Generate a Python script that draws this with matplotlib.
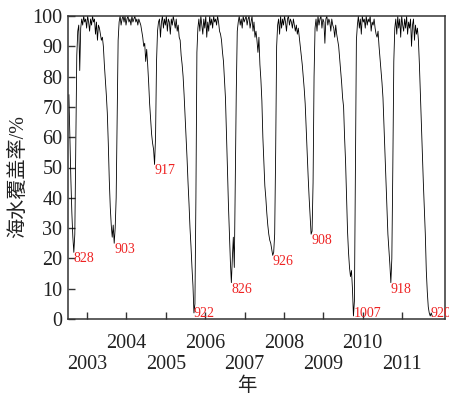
import numpy as np
import matplotlib.pyplot as plt

# sea-ice coverage (%), one reading every 1/40 year, each season from mid-July
season_start = [2002.54, 2003.54, 2004.54, 2005.54, 2006.54,
                2007.54, 2008.54, 2009.54, 2010.54, 2011.54]
step = 1 / 40

cov_2002 = [74, 60, 46, 35, 27, 22, 28, 58, 87, 95, 97, 82, 96, 99, 97, 100, 98, 99, 96, 100,
            98, 95, 99, 97, 100, 98, 99, 94, 98, 92, 97, 96, 94, 92, 93, 90, 84, 79, 74, 68]
cov_2003 = [58, 46, 37, 31, 27, 31, 25, 30, 40, 65, 92, 98, 100, 97, 99, 100, 98, 100, 97, 99,
            100, 98, 99, 97, 100, 98, 99, 100, 98, 99, 97, 99, 98, 97, 95, 93, 90, 91, 85, 89]
cov_2004 = [84, 78, 71, 66, 61, 58, 56, 51, 60, 85, 95, 98, 99, 93, 98, 100, 96, 99, 97, 100,
            95, 99, 98, 94, 99, 97, 100, 98, 96, 99, 95, 97, 93, 92, 87, 84, 80, 74, 67, 60]
cov_2005 = [53, 45, 38, 30, 24, 17, 11, 2, 5, 40, 88, 96, 99, 95, 100, 97, 94, 99, 96, 100,
            93, 98, 95, 100, 97, 99, 96, 100, 98, 99, 97, 100, 98, 95, 94, 92, 88, 85, 79, 73]
cov_2006 = [62, 50, 38, 28, 19, 12, 20, 27, 17, 45, 75, 95, 98, 100, 97, 99, 96, 100, 98, 99,
            100, 97, 99, 100, 96, 98, 100, 95, 98, 93, 95, 92, 88, 93, 84, 79, 72, 60, 52, 44]
cov_2007 = [40, 35, 31, 28, 26, 25, 23, 21, 22, 28, 55, 90, 97, 99, 94, 100, 96, 99, 97, 100,
            98, 95, 99, 100, 97, 99, 98, 96, 99, 97, 95, 97, 94, 96, 93, 90, 87, 84, 80, 76]
cov_2008 = [71, 63, 55, 47, 40, 34, 28, 29, 45, 80, 96, 99, 95, 100, 97, 99, 100, 96, 99, 98,
            91, 99, 100, 97, 99, 98, 95, 99, 97, 96, 93, 97, 94, 92, 90, 86, 82, 78, 73, 70]
cov_2009 = [60, 52, 41, 29, 22, 17, 14, 16, 10, 1, 6, 50, 92, 97, 100, 96, 99, 94, 100, 98,
            99, 96, 100, 97, 99, 98, 100, 95, 98, 97, 99, 96, 94, 93, 95, 90, 86, 82, 78, 73]
cov_2010 = [64, 55, 45, 36, 28, 23, 18, 12, 20, 50, 85, 96, 99, 94, 100, 96, 99, 93, 100, 97,
            95, 99, 96, 100, 94, 98, 96, 99, 90, 97, 99, 92, 97, 94, 96, 92, 84, 74, 64, 55]
cov_2011 = [45, 36, 28, 16, 9, 4, 2, 1, 2, 1]

# yearly minimum dates (mmdd) marked on the curve
min_years = [2002.655, 2003.67, 2004.71, 2005.72, 2006.65,
             2007.73, 2008.69, 2009.77, 2010.71, 2011.72]
min_labels = ['828', '903', '917', '922', '826', '926', '908', '1007', '918', '920']

year_ticks = [2003, 2004, 2005, 2006, 2007, 2008, 2009, 2010, 2011]


def main():
    seasons = [cov_2002, cov_2003, cov_2004, cov_2005, cov_2006,
               cov_2007, cov_2008, cov_2009, cov_2010, cov_2011]
    x = np.concatenate([s0 + np.arange(len(v)) * step for s0, v in zip(season_start, seasons)])
    y = np.concatenate([np.array(v, dtype=float) for v in seasons])

    serif = ['Liberation Serif', 'Noto Sans CJK SC']
    plt.rcParams['font.family'] = serif

    fig = plt.figure(figsize=(4.49, 3.95), dpi=100)
    ax = fig.add_axes([68 / 449, 1 - 319 / 395, 377 / 449, 303 / 395])
    ax.plot(x, y, color='black', lw=0.6)

    for my, lab in zip(min_years, min_labels):
        near = np.abs(x - my) < 0.06
        i = np.where(near)[0][np.argmin(y[near])]
        ax.text(x[i], max(y[i], 4), lab, color='#ee2222', fontsize=10,
                ha='left', va='top')

    ax.set_xlim(2002.517, 2012.09)
    ax.set_ylim(0, 100)
    ax.set_yticks(range(0, 101, 10))

    even = [t for t in year_ticks if t % 2 == 0]
    odd = [t for t in year_ticks if t % 2 == 1]
    ax.set_xticks(even)
    ax.set_xticklabels([str(t) for t in even])
    ax.set_xticks(odd, minor=True)
    ax.set_xticklabels([str(t) for t in odd], minor=True)

    ax.tick_params(axis='both', which='both', direction='in', length=5, width=1,
                   color='#333333', labelsize=14.5, labelcolor='#222222')
    ax.tick_params(axis='x', which='major', pad=10.5)
    ax.tick_params(axis='x', which='minor', pad=26)
    ax.tick_params(axis='y', pad=4)
    for sp in ax.spines.values():
        sp.set_color('#333333')
        sp.set_linewidth(1.1)

    ax.set_ylabel('海水覆盖率/%', fontsize=14.5, color='#222222')
    ax.yaxis.set_label_coords(-0.105, 0.47)
    ax.set_xlabel('年', fontsize=14, color='#222222')
    ax.xaxis.set_label_coords(0.475, -0.19)

    fig.savefig('out.png', dpi=100)


if __name__ == "__main__":
    main()
